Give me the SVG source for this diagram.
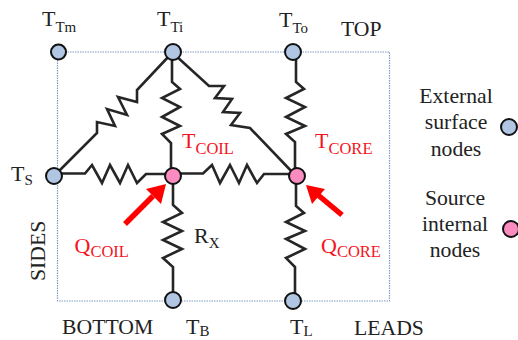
<svg xmlns="http://www.w3.org/2000/svg" width="518" height="340" viewBox="0 0 518 340">
<style>
text{font-family:"Liberation Serif","Times New Roman",serif;fill:#222}
.t{font-size:22px}
.s{font-size:15px}
.r{fill:#f5141e}
.r .s{font-size:16.500px}
.l{font-size:21.700px;text-anchor:middle}
.w{fill:none;stroke:#262626;stroke-width:2.6;stroke-linejoin:miter}
.b{fill:none;stroke:#7f9bc0;stroke-width:1.2;stroke-dasharray:1.5 1}
.e{fill:#b0c6e2;stroke:#111;stroke-width:2}
.i{fill:#fb8cc0;stroke:#111;stroke-width:2}
.a{stroke:#ff0000;stroke-width:5.5;fill:none}
.h{fill:#ff0000}
</style>
<rect width="518" height="340" fill="#fff"/>
<rect class="b" x="57.500" y="52" width="332" height="249"/>
<g id="connectors">
<path class="w" d="M170 55L137 90V102L118 97L127 115L107 109L115 126L97 122V133L58 172"/>
<path class="w" d="M172 52V82L180 89L162 98L180 107L162 117L180 126L162 134L171 143V176"/>
<path class="w" d="M175 55L209 86H224L215 98L232 99L223 112L240 113L231 125L250 128L296 176"/>
<path class="w" d="M296 52V82L304 89L286 98L305 107L286 117L305 126L286 134L295 142V176"/>
<path class="w" d="M54 173.500H85L92 165L102 183L110 165L120 183L128 165L137 183L146 174H173"/>
<path class="w" d="M173 173.500H203L212 165L220 183L230 165L239 183L247 165L257 183L264 174H298"/>
<path class="w" d="M173 176V205L182 213L163 222L182 231L163 240L182 249L163 258L173 267V300"/>
<path class="w" d="M296 176V206L304 213L286 222L305 231L286 239L305 249L286 258L295 267V298"/>
<path class="a" d="M125 224L153 196"/>
<path class="h" d="M166 184L161 204L146 189Z"/>
<path class="a" d="M342 215L318 195"/>
<path class="h" d="M306 185L325 189L312 204Z"/>
</g>
<g id="node-ttm"><circle class="e" cx="58.500" cy="52" r="7.500"/><text x="42" y="26" class="t">T<tspan class="s" dy="6">Tm</tspan></text></g>
<g id="node-tti"><circle class="e" cx="173" cy="52" r="8"/><text x="157" y="26" class="t">T<tspan class="s" dy="6">Ti</tspan></text></g>
<g id="node-tto"><circle class="e" cx="293" cy="52" r="8"/><text x="279" y="27" class="t">T<tspan class="s" dy="6">To</tspan></text></g>
<g id="node-ts"><circle class="e" cx="54" cy="176" r="8"/><text x="11" y="181" class="t">T<tspan class="s" dy="4">S</tspan></text></g>
<g id="node-coil"><circle class="i" cx="173" cy="176" r="8"/><text x="182" y="148" class="t r">T<tspan class="s" dy="6">COIL</tspan></text></g>
<g id="node-core"><circle class="i" cx="297" cy="176" r="8"/><text x="315" y="148" class="t r">T<tspan class="s" dy="6">CORE</tspan></text></g>
<g id="node-tb"><circle class="e" cx="173" cy="300" r="8"/><text x="186" y="334" class="t">T<tspan class="s" dy="2">B</tspan></text></g>
<g id="node-tl"><circle class="e" cx="293" cy="301" r="8"/><text x="290" y="334" class="t">T<tspan class="s" dy="2">L</tspan></text></g>
<text x="74.500" y="253" class="t r">Q<tspan class="s" dy="4">COIL</tspan></text>
<text x="321" y="253" class="t r">Q<tspan class="s" dy="4">CORE</tspan></text>
<text x="194" y="243" class="t">R<tspan class="s" dy="5">X</tspan></text>
<text x="341" y="36" class="l" style="text-anchor:start">TOP</text>
<text x="62" y="334" class="l" style="text-anchor:start">BOTTOM</text>
<text x="354" y="335" class="l" style="text-anchor:start">LEADS</text>
<text transform="translate(45 281) rotate(-90)" class="l" style="text-anchor:start">SIDES</text>
<g id="legend-external"><text class="l" x="456" y="103">External</text><text class="l" x="456" y="129">surface</text><text class="l" x="456" y="156">nodes</text><circle class="e" cx="509" cy="127" r="8"/></g>
<g id="legend-source"><text class="l" x="455" y="205">Source</text><text class="l" x="455" y="231">internal</text><text class="l" x="455" y="257">nodes</text><circle class="i" cx="511" cy="229" r="8"/></g>
</svg>
